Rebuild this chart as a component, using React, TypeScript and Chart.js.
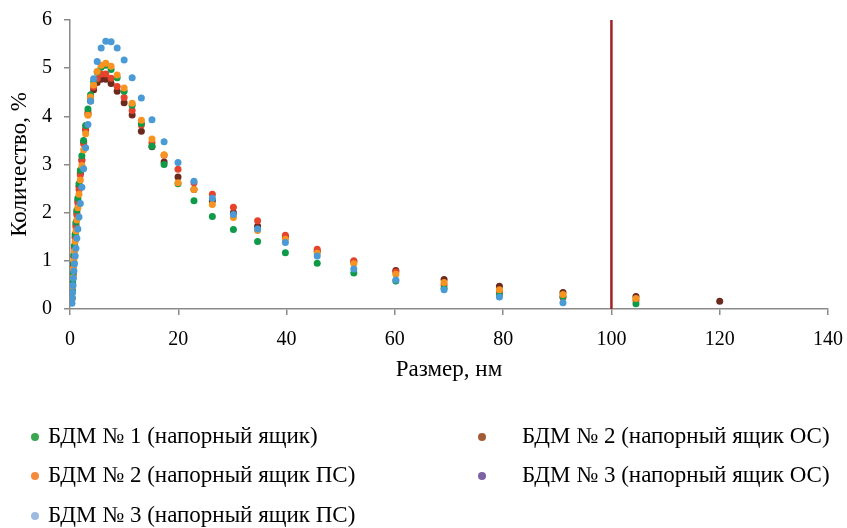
import { useEffect, useRef } from 'react';
import { Chart, registerables } from 'chart.js';

Chart.register(...registerables);

// Particle size bins, nm
const sizes = [0.364, 0.418, 0.48, 0.551, 0.633, 0.727, 0.834, 0.957, 1.099, 1.262, 1.449, 1.663, 1.909, 2.192, 2.516, 2.888, 3.316, 3.806, 4.37, 5.017, 5.759, 6.611, 7.59, 8.713, 10.0, 11.48, 13.18, 15.14, 17.38, 19.95, 22.9, 26.29, 30.18, 34.65, 39.78, 45.66, 52.42, 60.18, 69.09, 79.31, 91.05, 104.53, 120];

// Amount, %
const bdm1 = [0.25, 0.4, 0.55, 0.75, 0.95, 1.12, 1.32, 1.55, 1.8, 2.05, 2.3, 2.6, 2.88, 3.18, 3.5, 3.81, 4.15, 4.45, 4.72, 4.92, 5.02, 5.06, 4.97, 4.8, 4.52, 4.23, 3.85, 3.38, 3.0, 2.6, 2.25, 1.92, 1.65, 1.4, 1.17, 0.95, 0.75, 0.58, 0.43, 0.3, 0.26, 0.11, null];
const bdm2ps = [0.2, 0.33, 0.48, 0.65, 0.83, 1.0, 1.2, 1.4, 1.62, 1.85, 2.1, 2.38, 2.68, 2.98, 3.3, 3.64, 4.02, 4.4, 4.65, 4.93, 5.06, 5.1, 5.04, 4.86, 4.59, 4.27, 3.92, 3.53, 3.2, 2.62, 2.48, 2.17, 1.9, 1.63, 1.45, 1.16, 0.94, 0.72, 0.55, 0.4, 0.3, 0.22, null];
const bdm3ps = [0.12, 0.23, 0.35, 0.49, 0.64, 0.79, 0.94, 1.1, 1.26, 1.47, 1.66, 1.91, 2.19, 2.53, 2.91, 3.35, 3.83, 4.32, 4.78, 5.14, 5.42, 5.56, 5.55, 5.42, 5.17, 4.8, 4.38, 3.93, 3.47, 3.04, 2.65, 2.3, 1.96, 1.66, 1.38, 1.1, 0.83, 0.6, 0.4, 0.25, 0.13, null, null];
const bdm2os = [0.22, 0.36, 0.52, 0.7, 0.9, 1.08, 1.27, 1.48, 1.7, 1.95, 2.2, 2.48, 2.78, 3.08, 3.43, 3.74, 4.09, 4.38, 4.61, 4.78, 4.88, 4.88, 4.79, 4.62, 4.39, 4.12, 3.82, 3.45, 3.19, 2.9, 2.62, 2.38, 2.11, 1.83, 1.53, 1.24, 1.0, 0.77, 0.5, 0.36, 0.24, 0.18, null];
const bdm3os = [0.22, 0.38, 0.53, 0.72, 0.92, 1.1, 1.3, 1.5, 1.75, 2.0, 2.25, 2.55, 2.82, 3.1, 3.46, 3.72, 4.05, 4.32, 4.55, 4.7, 4.77, 4.77, 4.68, 4.52, 4.28, 4.03, 3.69, 3.37, 3.05, 2.74, 2.48, 2.25, 2.0, 1.72, 1.5, 1.2, 0.98, 0.8, 0.61, 0.47, 0.34, 0.26, 0.16];

const seriesLabels = [
  'БДМ № 1 (напорный ящик)',
  'БДМ № 2 (напорный ящик ПС)',
  'БДМ № 3 (напорный ящик ПС)',
  'БДМ № 2 (напорный ящик ОС)',
  'БДМ № 3 (напорный ящик ОС)',
];
const seriesValues = [bdm1, bdm2ps, bdm3ps, bdm2os, bdm3os];
const pointColors = ['#0e9a48', '#f7931e', '#4a9ad6', '#e5432b', '#6b2a1d'];
const legendColors = ['#3aa64f', '#f58a3c', '#9dbbe0', '#a35d35', '#7f62a4'];
const drawOrder = [3, 2, 1, 4, 5];

const limitX = [100, 100];
const limitY = [0, 6];

const FONT = '"Liberation Serif", "Times New Roman", serif';

const legendPlugin = {
  id: 'customLegend',
  afterDraw(chart: any) {
    const ctx = chart.ctx;
    const slots = [
      { mx: 35, tx: 48, y: 437 },
      { mx: 35, tx: 48, y: 476 },
      { mx: 35, tx: 48, y: 516 },
      { mx: 482, tx: 522, y: 437 },
      { mx: 482, tx: 522, y: 476 },
    ];
    ctx.save();
    ctx.font = `23px ${FONT}`;
    ctx.textBaseline = 'middle';
    ctx.textAlign = 'left';
    seriesLabels.forEach((label, i) => {
      const s = slots[i];
      ctx.beginPath();
      ctx.fillStyle = legendColors[i];
      ctx.arc(s.mx, s.y, 4, 0, Math.PI * 2);
      ctx.fill();
      ctx.fillStyle = '#000';
      ctx.fillText(label, s.tx, s.y);
    });
    ctx.restore();
  },
};

export default function App() {
  const ref = useRef<HTMLCanvasElement>(null);
  useEffect(() => {
    const datasets: any[] = seriesValues.map((vals, i) => ({
      label: seriesLabels[i],
      data: sizes
        .map((x, j) => ({ x, y: vals[j] }))
        .filter((p) => p.y !== null),
      backgroundColor: pointColors[i],
      borderColor: pointColors[i],
      borderWidth: 0,
      pointRadius: 3.5,
      showLine: false,
      order: drawOrder[i],
    }));
    datasets.push({
      label: 'limit',
      data: limitX.map((x, j) => ({ x, y: limitY[j] })),
      borderColor: '#9e2326',
      backgroundColor: '#9e2326',
      borderWidth: 2.5,
      pointRadius: 0,
      showLine: true,
      order: 0,
    });
    const chart = new Chart(ref.current!, {
      type: 'scatter',
      data: { datasets },
      options: {
        responsive: false,
        animation: false,
        layout: { padding: { left: 0, right: 19, top: 20, bottom: 144 } },
        plugins: { legend: { display: false }, tooltip: { enabled: false } },
        scales: {
          x: {
            type: 'linear',
            min: 0,
            max: 140,
            ticks: { stepSize: 20, color: '#000', font: { family: FONT, size: 20 }, padding: 13 },
            grid: { drawOnChartArea: false, tickLength: 6, color: '#8a8a8a', lineWidth: 1.5 },
            border: { color: '#8a8a8a', width: 1.5 },
            title: { display: true, text: 'Размер, нм', color: '#000', font: { family: FONT, size: 23 }, padding: { top: 0, bottom: 0 } },
            afterFit: (s: any) => {
              s.height = 75;
              s.paddingLeft = 0;
              s.paddingRight = 0;
            },
          },
          y: {
            type: 'linear',
            min: 0,
            max: 6,
            ticks: { stepSize: 1, color: '#000', font: { family: FONT, size: 20 }, padding: 12 },
            grid: { drawOnChartArea: false, tickLength: 6, color: '#8a8a8a', lineWidth: 1.5 },
            border: { color: '#8a8a8a', width: 1.5 },
            title: { display: true, text: 'Количество, %', color: '#000', font: { family: FONT, size: 23 }, padding: { top: 6, bottom: 0 } },
            afterFit: (s: any) => {
              s.width = 70;
              s.paddingTop = 0;
              s.paddingBottom = 0;
            },
          },
        },
      },
      plugins: [legendPlugin],
    });
    return () => chart.destroy();
  }, []);
  return (
    <div style={{ position: 'fixed', left: 0, top: 0, width: 847, height: 528, background: '#fff' }}>
      <canvas ref={ref} width={847} height={528} style={{ display: 'block' }} />
    </div>
  );
}
